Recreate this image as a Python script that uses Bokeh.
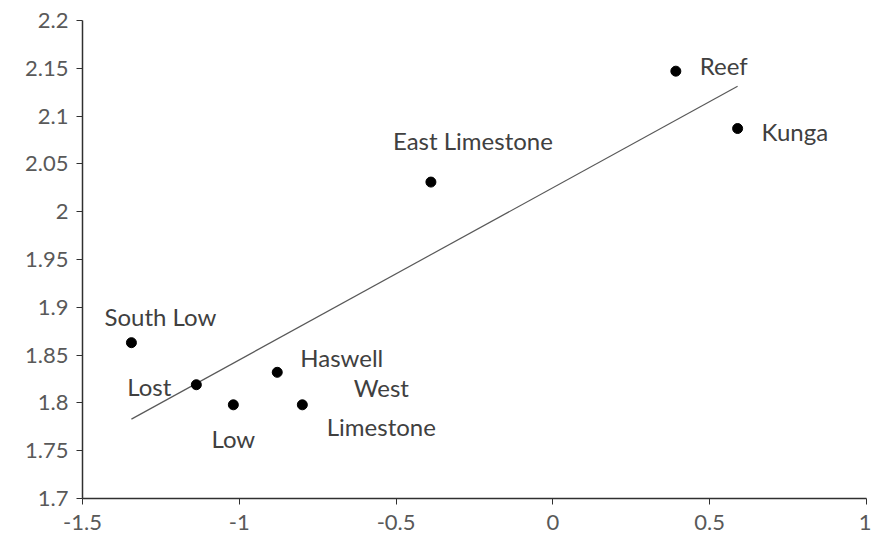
import numpy as np
from bokeh.plotting import figure
from bokeh.models import ColumnDataSource, Range1d, FixedTicker
from bokeh.core.properties import value
from bokeh.embed import file_html
from bokeh.resources import INLINE

# Sites and their measured coordinates
sites = ["South Low", "Lost", "Low", "Haswell", "West\nLimestone",
         "East Limestone", "Reef", "Kunga"]
x_vals = [-1.344, -1.137, -1.019, -0.879, -0.799, -0.389, 0.392, 0.589]
y_vals = [1.863, 1.819, 1.798, 1.832, 1.798, 2.031, 2.147, 2.087]

x_ticks = [-1.5, -1, -0.5, 0, 0.5, 1]
y_ticks = [1.7, 1.75, 1.8, 1.85, 1.9, 1.95, 2.0, 2.05, 2.1, 2.15, 2.2]

# Label placement (screen offsets in px and anchors)
label_dx = [29, -25, 0, 23, 79, 42, 24, 24]
label_dy = [-26, 2, 34, -15, 2, -42, -6, 3]
label_align = ["center", "right", "center", "left", "center", "center", "left", "left"]

FONT = "Lato"
TEXT = "#404040"

p = figure(width=871, height=547, output_backend="svg", toolbar_location=None,
           x_range=Range1d(-1.5, 1.0), y_range=Range1d(1.7, 2.2),
           min_border_left=82, min_border_right=5, min_border_top=20,
           min_border_bottom=49)
p.outline_line_color = None
p.xgrid.visible = False
p.ygrid.visible = False
p.background_fill_color = "white"
p.border_fill_color = "white"

for ax, ticks in ((p.xaxis, x_ticks), (p.yaxis, y_ticks)):
    ax.ticker = FixedTicker(ticks=ticks)
    ax.minor_tick_line_color = None
    ax.major_tick_in = 0
    ax.major_tick_out = 6
    ax.axis_line_color = "#303030"
    ax.axis_line_width = 1.5
    ax.major_tick_line_color = "#303030"
    ax.major_label_text_font = FONT
    ax.major_label_text_font_size = "22px"
    ax.major_label_text_color = "#595959"
p.xaxis.major_label_standoff = 10
p.yaxis.major_label_standoff = 8
p.xaxis.major_label_overrides = {-1.5: "-1.5", -1: "-1", -0.5: "-0.5", 0: "0",
                                  0.5: "0.5", 1: "1"}
p.yaxis.major_label_overrides = {t: f"{t:g}" for t in y_ticks}

# Least-squares trend line over the data range
slope, intercept = np.polyfit(x_vals, y_vals, 1)
xl = np.array([min(x_vals), max(x_vals)])
p.line(xl, slope * xl + intercept, line_color="#595959", line_width=1.2)

src = ColumnDataSource(dict(x=x_vals, y=y_vals, name=sites, dx=label_dx,
                            dy=label_dy, align=label_align))
p.scatter("x", "y", source=src, size=10, fill_color="black", line_color="black")
p.text("x", "y", text="name", source=src, x_offset="dx", y_offset="dy",
       text_align="align", text_baseline="middle",
       text_font=value(FONT), text_font_size="24px", text_color=TEXT,
       text_line_height=1.35)

open("out.html", "w").write(file_html(p, INLINE))
